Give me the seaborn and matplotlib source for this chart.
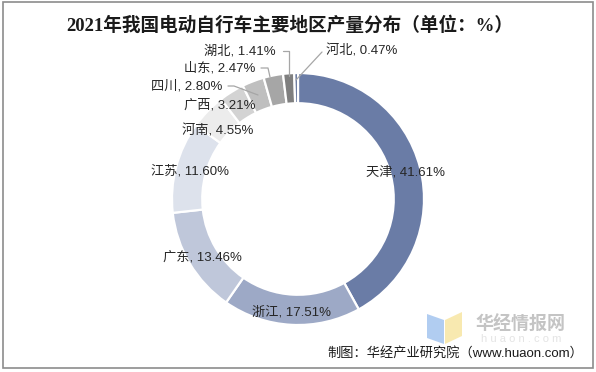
import matplotlib
matplotlib.use("Agg")
import matplotlib.pyplot as plt
import seaborn as sns
import numpy as np
from matplotlib.patches import Polygon, Rectangle

sns.set_theme(style="white")
plt.rcParams['font.family'] = ['Liberation Sans', 'Noto Sans CJK SC', 'DejaVu Sans']

# ---- data ----
regions = ["天津", "浙江", "广东", "江苏", "河南", "广西", "四川", "山东", "湖北", "河北"]
shares = [41.61, 17.51, 13.46, 11.60, 4.55, 3.21, 2.80, 2.47, 1.41, 0.47]
title = "2021年我国电动自行车主要地区产量分布（单位：%）"
source = "制图：华经产业研究院（www.huaon.com）"

# ---- style ----
colors = ["#6A7CA6", "#9DA9C6", "#BFC7DA", "#DDE2EC", "#ECECEC",
          "#D3D3D3", "#BFBFBF", "#A6A6A6", "#7F7F7F", "#5E6F96"]

W, H = 596, 372
fig = plt.figure(figsize=(W / 100, H / 100), dpi=100)
fig.patch.set_facecolor("white")

cx, cy, R = 298, 199, 126  # pixel centre / radius
ax = fig.add_axes([(cx - R) / W, (H - cy - R) / H, 2 * R / W, 2 * R / H])
ax.pie(shares, colors=colors, startangle=90, counterclock=False, radius=1.0,
       wedgeprops=dict(width=0.24, edgecolor="white", linewidth=1.6))
ax.set_xlim(-1, 1)
ax.set_ylim(-1, 1)
ax.set_aspect("equal")
ax.axis("off")

def px(x, y):
    """pixel (from top-left) -> data coords of the pie axes"""
    return ((x - cx) / R, (cy - y) / R)

# label layout (pixel centres) – positions only
label_pos = {
    "天津": (405, 172), "浙江": (291, 312), "广东": (202, 257),
    "江苏": (190, 171), "河南": (218, 131), "广西": (220, 105),
    "四川": (187, 86), "山东": (220, 68), "湖北": (240, 51), "河北": (362, 51),
}
for name, v in zip(regions, shares):
    x, y = px(*label_pos[name])
    ax.text(x, y, f"{name}, {v:.2f}%", ha="center", va="center",
            fontsize=9.5, color="#262626", clip_on=False)

# leader lines
leaders = {
    "四川": [(228, 86), (234, 86), (258, 95)],
    "山东": [(261, 68), (268, 68), (270, 77)],
    "湖北": [(283, 51), (289, 51), (289, 76)],
    "河北": [(322, 52), (296, 80)],
}
for pts in leaders.values():
    xs, ys = zip(*[px(*p) for p in pts])
    ax.plot(xs, ys, color="#A6A6A6", lw=0.9, clip_on=False)

# title
fig.text(290 / W, 1 - 25 / H, title, ha="center", va="center", fontsize=13.4,
         fontweight="bold", family=['Liberation Serif', 'Noto Sans CJK SC'],
         color="#1a1a1a")

# watermark
icon = fig.add_axes([0, 0, 1, 1], facecolor="none")
icon.set_xlim(0, W)
icon.set_ylim(H, 0)
icon.axis("off")
icon.add_patch(Polygon([(427, 314), (444, 320), (444, 344), (427, 338)],
                       closed=True, color="#A9C8F0", alpha=0.9, lw=0))
icon.add_patch(Polygon([(445, 320), (462, 312), (462, 336), (445, 344)],
                       closed=True, color="#F8E7A8", alpha=0.9, lw=0))
icon.text(521, 324, "华经情报网", ha="center", va="center", fontsize=13,
          fontweight="bold", color="#C4C4C4", family=['Noto Sans CJK SC'])
icon.text(521, 338.5, "h u a o n . c o m", ha="center", va="center", fontsize=8,
          color="#E4E4E4")

# source
icon.text(583, 353, source, ha="right", va="center", fontsize=9.5,
          color="#1a1a1a")

# frame
icon.add_patch(Rectangle((3, 2), 590, 366, fill=False, edgecolor="#8C8C8C",
                         lw=1.2))

fig.savefig("out.png", dpi=100, facecolor="white")
